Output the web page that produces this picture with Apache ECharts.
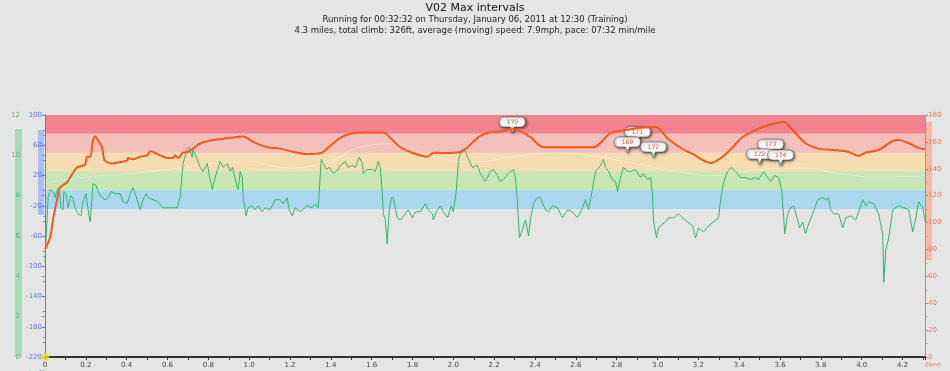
<!DOCTYPE html>
<html><head><meta charset="utf-8">
<script src="https://cdn.jsdelivr.net/npm/echarts@6/dist/echarts.min.js"></script>
<style>html,body{margin:0;padding:0;background:#e5e5e5;}#c{width:950px;height:371px;}</style>
</head><body><div id="c"></div>
<script>
const titleText = 'V02 Max intervals';
const subtitleLines = [
  'Running for 00:32:32 on Thursday, January 06, 2011 at 12:30 (Training)',
  '4.3 miles, total climb: 326ft, average (moving) speed: 7.9mph, pace: 07:32 min/mile'
];

const hrMiles = [0,0.025,0.039,0.059,0.074,0.108,0.137,0.157,0.196,0.206,0.221,0.235,0.245,0.26,0.279,0.294,0.333,0.368,0.402,0.407,0.431,0.466,0.5,0.515,0.529,0.564,0.598,0.627,0.637,0.652,0.676,0.701,0.725,0.76,0.809,0.858,0.907,0.971,1.02,1.088,1.152,1.216,1.284,1.348,1.382,1.412,1.446,1.495,1.559,1.657,1.691,1.74,1.789,1.873,1.902,1.951,2.034,2.069,2.118,2.167,2.245,2.289,2.328,2.377,2.441,2.539,2.686,2.77,2.853,2.907,2.99,3.054,3.123,3.172,3.221,3.26,3.319,3.368,3.417,3.48,3.544,3.618,3.662,3.725,3.789,3.858,3.936,3.985,4.02,4.083,4.152,4.181,4.23,4.279,4.31];
const hrBpm = [80,89,102,117,126,130,137,141,143,149,149,161,164,161,156,146,144,145,146,148,147,149,150,153,152.5,150,148,148,150,148,152,152.5,155,159,161,162,163,164,160,156,155,152.5,151,151.5,155,159,163,166,167,167,163,156,152.5,149,152,151.7,152.5,156,163,166.6,168,170,168,163.6,156,156,156,166.6,169,170.3,171,162,154.7,151,146.5,144.3,149,156,163.6,168.8,172.6,174.8,168.8,159,155,154,152.5,149.5,152,154,160.7,161.4,159,155.4,154.7];

const speedMiles = [0,0.010,0.015,0.025,0.039,0.049,0.059,0.069,0.078,0.088,0.093,0.103,0.113,0.127,0.137,0.147,0.162,0.176,0.186,0.201,0.211,0.221,0.230,0.235,0.250,0.260,0.279,0.294,0.309,0.324,0.343,0.368,0.382,0.402,0.417,0.431,0.451,0.466,0.480,0.495,0.505,0.529,0.554,0.578,0.603,0.627,0.647,0.662,0.676,0.696,0.706,0.721,0.725,0.745,0.760,0.775,0.794,0.809,0.819,0.833,0.848,0.858,0.873,0.892,0.907,0.917,0.926,0.941,0.946,0.956,0.966,0.971,0.985,0.995,1.015,1.029,1.044,1.064,1.078,1.103,1.127,1.152,1.167,1.186,1.196,1.211,1.225,1.250,1.284,1.309,1.324,1.338,1.353,1.363,1.377,1.392,1.412,1.436,1.446,1.471,1.485,1.505,1.520,1.539,1.554,1.559,1.578,1.603,1.618,1.632,1.642,1.652,1.657,1.667,1.676,1.686,1.696,1.706,1.725,1.740,1.765,1.779,1.799,1.814,1.838,1.863,1.877,1.897,1.902,1.917,1.936,1.951,1.971,1.990,2.000,2.015,2.025,2.044,2.059,2.074,2.093,2.118,2.132,2.157,2.181,2.196,2.216,2.230,2.245,2.270,2.294,2.304,2.314,2.324,2.338,2.353,2.368,2.377,2.392,2.412,2.426,2.451,2.466,2.485,2.510,2.534,2.559,2.583,2.608,2.632,2.647,2.662,2.681,2.696,2.721,2.735,2.745,2.760,2.779,2.794,2.804,2.819,2.833,2.853,2.868,2.892,2.917,2.931,2.951,2.966,2.975,2.980,2.995,3.005,3.025,3.039,3.054,3.078,3.103,3.123,3.147,3.172,3.186,3.201,3.225,3.250,3.275,3.299,3.309,3.324,3.343,3.363,3.382,3.407,3.431,3.456,3.480,3.495,3.520,3.539,3.554,3.574,3.593,3.608,3.618,3.623,3.637,3.652,3.667,3.686,3.696,3.711,3.725,3.740,3.760,3.784,3.809,3.828,3.838,3.848,3.863,3.887,3.907,3.922,3.946,3.971,3.985,4.005,4.020,4.034,4.059,4.083,4.103,4.108,4.118,4.132,4.152,4.167,4.181,4.206,4.230,4.250,4.265,4.279,4.299,4.314];
const speedMph = [4.7,6.8,7.9,8.3,8.2,7.9,8.3,8.4,7.4,7.3,8.2,8.1,7.4,8.0,7.9,7.4,7.1,7.0,7.7,8.1,7.3,6.7,7.8,8.6,8.5,8.2,7.9,7.8,7.9,8.2,8.1,8.1,7.7,7.6,8.1,8.4,7.8,7.3,7.8,8.1,7.9,7.8,7.7,7.4,7.4,7.4,7.4,7.9,9.6,10.3,10.4,9.9,10.3,9.8,9.4,9.2,9.6,8.8,8.3,8.9,9.4,9.7,9.4,9.6,9.2,9.4,9.1,8.4,8.3,9.2,8.9,7.9,7.0,7.4,7.5,7.3,7.5,7.2,7.4,7.3,7.8,7.8,7.6,7.9,7.3,7.0,7.4,7.2,7.5,7.4,7.6,7.4,9.8,9.6,9.3,9.4,9.1,9.3,9.5,9.7,9.4,9.5,9.4,9.9,9.6,9.1,9.3,9.3,9.2,9.7,9.4,8.1,7.1,6.8,5.6,7.3,7.9,7.9,6.9,6.8,7.1,7.3,6.9,7.2,7.2,7.6,7.3,7.1,6.8,7.2,7.5,7.2,6.9,7.5,7.2,8.3,9.8,10.3,10.2,9.8,9.4,9.5,9.1,8.7,9.2,9.3,9.0,8.7,8.8,9.1,9.3,8.9,7.6,5.9,6.3,6.8,6.0,6.8,7.6,7.9,7.9,7.3,7.2,7.5,7.4,6.9,7.3,7.2,6.9,7.4,7.8,7.3,8.3,9.2,9.5,9.8,9.4,9.2,8.8,8.7,8.2,8.9,9.4,9.2,9.2,9.3,8.9,9.1,8.8,8.9,8.1,6.8,5.9,6.4,6.6,6.7,6.9,6.9,7.1,6.9,6.7,6.5,5.9,6.4,6.2,6.5,6.7,6.9,7.8,8.7,9.2,9.4,9.2,8.9,8.9,8.8,8.9,8.8,9.2,8.9,8.7,9.0,8.9,8.3,6.9,6.1,7.1,7.4,7.5,6.8,6.4,6.7,6.1,6.6,7.1,7.8,7.9,7.8,7.9,7.3,7.1,7.1,6.4,6.9,7.0,6.8,7.2,7.8,7.5,7.7,7.6,7.1,6.1,3.7,5.3,5.9,7.3,7.4,7.5,7.4,7.3,6.2,6.9,7.7,7.4,6.6];

const elevMiles = [0,0.2,0.4,0.6,0.8,1.0,1.2,1.4,1.55,1.7,1.9,2.1,2.3,2.5,2.7,2.9,3.1,3.3,3.5,3.7,3.9,4.1,4.31];
const elevFt = [10,18,22,28,35,38,30,40,58,62,45,38,45,50,45,35,25,20,28,30,22,18,20];

const zoneBounds = [180,166,152,138,124,110];
const zoneColors = ['#f1838f','#f5c0bb','#f6dcb2','#c8e6b6','#aad8f0'];

const speedRange = [0, 11.3];
const elevRange = [-32, 80];
const hrRange = [72, 175];

const calloutMiles = [2.289, 2.902, 2.853, 2.980, 3.554, 3.500, 3.603];
const calloutAt = [166.6, 159.2, 151.7, 148.0, 150.0, 142.8, 142.0];
const calloutText = ['170','171','169','172','173','172','174'];

const FONT = '"Lucida Grande","DejaVu Sans",sans-serif';
const zip = (a, b) => a.map((v, i) => [v, b[i]]);
const GREEN = '#5cb87a', BLUE = '#5a78e6', RED = '#f07a58';

const bubble = 'path://M5,0 L21,0 Q26,0 26,5 Q26,10 21,10 L15,10 L13,16 L11,10 L5,10 Q0,10 0,5 Q0,0 5,0 Z';

function sideBar(yIdx, range, dx, w, color, atMax) {
  return {
    type: 'custom', yAxisIndex: yIdx, clip: false, silent: true, z: 0,
    data: [[0, range[0], range[1]]],
    encode: { x: 0, y: [1, 2] },
    renderItem: (params, api) => {
      const xv = atMax ? 4.31 : 0;
      const p1 = api.coord([xv, api.value(1)]);
      const p2 = api.coord([xv, api.value(2)]);
      return { type: 'rect', shape: { x: p1[0] + dx, y: p2[1], width: w, height: p1[1] - p2[1] }, style: { fill: color } };
    }
  };
}

const chart = echarts.init(document.getElementById('c'));
chart.setOption({
  backgroundColor: '#e5e5e5',
  animation: false,
  title: {
    text: titleText, subtext: subtitleLines.join('\n'), left: 'center', top: -2, itemGap: 0,
    textStyle: { fontSize: 11, fontWeight: 'normal', color: '#111', fontFamily: FONT },
    subtextStyle: { fontSize: 8.5, color: '#222', lineHeight: 11, fontFamily: FONT }
  },
  grid: { left: 45, right: 25, top: 115, bottom: 14, containLabel: false, outerBoundsMode: 'none' },
  xAxis: {
    type: 'value', min: 0, max: 4.31, interval: 0.2, z: 2,
    axisLine: { lineStyle: { color: '#333', width: 2 } },
    axisTick: { length: 3, lineStyle: { color: '#333' } },
    minorTick: { show: true, splitNumber: 2, length: 3, lineStyle: { color: '#333' } },
    axisLabel: { fontSize: 7, color: '#444', margin: 5, showMaxLabel: false, fontFamily: FONT,
      formatter: v => v === 0 ? '0' : v.toFixed(1) },
    splitLine: { show: false }
  },
  yAxis: [
    { type: 'value', position: 'left', offset: 22, min: 0, max: 12, interval: 2, z: 2,
      name: '(mph)', nameLocation: 'start', nameGap: 4, nameTextStyle: { fontSize: 6, color: GREEN, align: 'right' },
      axisLine: { show: true, lineStyle: { color: GREEN } },
      axisTick: { show: true, length: 3, lineStyle: { color: GREEN } },
      minorTick: { show: true, splitNumber: 2, length: 2, lineStyle: { color: GREEN } },
      axisLabel: { fontSize: 7, color: GREEN, margin: 3, fontFamily: FONT }, splitLine: { show: false } },
    { type: 'value', position: 'left', offset: 0, min: -220, max: 100, interval: 40, z: 2,
      name: '(ft)', nameLocation: 'start', nameGap: 4, nameTextStyle: { fontSize: 6, color: BLUE, align: 'right' },
      axisLine: { show: true, lineStyle: { color: BLUE } },
      axisTick: { show: true, length: 3, lineStyle: { color: BLUE } },
      minorTick: { show: true, splitNumber: 2, length: 2, lineStyle: { color: BLUE } },
      axisLabel: { fontSize: 7, color: BLUE, margin: 3, fontFamily: FONT }, splitLine: { show: false } },
    { type: 'value', position: 'right', min: 0, max: 180, interval: 20, z: 2,
      name: '(bpm)', nameLocation: 'start', nameGap: 4, nameTextStyle: { fontSize: 6, color: RED, align: 'left' },
      axisLine: { show: true, lineStyle: { color: RED } },
      axisTick: { show: true, length: 3, lineStyle: { color: RED } },
      minorTick: { show: true, splitNumber: 2, length: 2, lineStyle: { color: RED } },
      axisLabel: { fontSize: 7, color: RED, margin: 3, fontFamily: FONT }, splitLine: { show: false } }
  ],
  series: [
    { type: 'line', yAxisIndex: 2, data: [], z: 0, silent: true,
      markArea: { silent: true,
        data: zoneColors.map((c, i) => [{ yAxis: zoneBounds[i], itemStyle: { color: c } }, { yAxis: zoneBounds[i + 1] }]) } },
    sideBar(0, speedRange, -30, 7, '#a8dab4', false),
    sideBar(1, elevRange, -7, 6, '#a9bdf0', false),
    sideBar(2, hrRange, 1, 6, '#f6b9a6', true),
    { type: 'line', yAxisIndex: 1, data: zip(elevMiles, elevFt), showSymbol: false, smooth: true, z: 3,
      lineStyle: { color: 'rgba(255,255,255,0.3)', width: 1 } },
    { type: 'line', yAxisIndex: 0, data: zip(speedMiles, speedMph), showSymbol: false, z: 4,
      lineStyle: { color: '#36b566', width: 1 } },
    { type: 'line', yAxisIndex: 2, data: zip(hrMiles, hrBpm), showSymbol: false, smooth: 0.3, z: 5,
      lineStyle: { color: '#f25a1c', width: 2 },
      markPoint: {
        symbol: bubble, symbolSize: [26, 16], symbolOffset: [0, -8],
        itemStyle: { color: '#fbfbfb', borderColor: '#555', borderWidth: 0.5, shadowBlur: 3, shadowColor: 'rgba(0,0,0,0.7)', shadowOffsetX: 1, shadowOffsetY: 1 },
        label: { show: true, position: 'inside', offset: [0, -3], fontSize: 6, color: '#e0503a', fontFamily: FONT },
        data: calloutMiles.map((m, i) => ({ coord: [m, calloutAt[i]], value: calloutText[i] }))
      } },
    { type: 'scatter', yAxisIndex: 1, data: [[0, -220]], symbolSize: 8, clip: false, z: 10,
      itemStyle: { color: '#f2e41c' } }
  ]
});
</script></body></html>
